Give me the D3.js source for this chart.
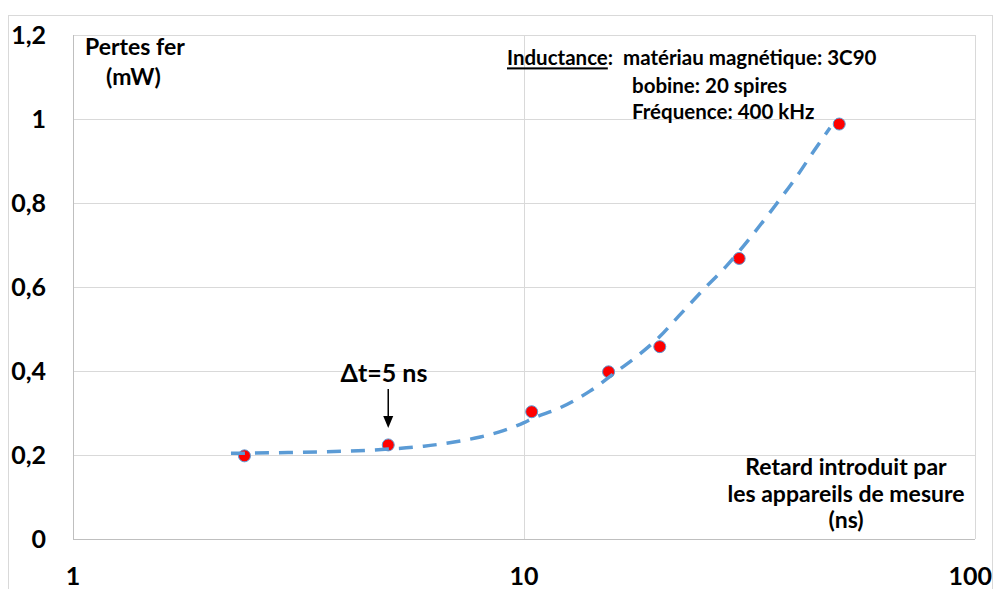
<!DOCTYPE html>
<html><head><meta charset="utf-8">
<script src="https://cdn.jsdelivr.net/npm/d3@7/dist/d3.min.js"></script>
<style>
html,body{margin:0;padding:0;background:#fff;}
svg{display:block;}
text{font-family:Lato,"Open Sans",sans-serif;font-weight:bold;fill:#000;}
</style></head>
<body>
<svg id="chart" width="994" height="589"></svg>
<script>
// Data
const delayNs = [2.4, 5, 10.4, 15.4, 20, 30, 50];
const lossMw  = [0.198, 0.224, 0.303, 0.398, 0.458, 0.668, 0.988];
// trend line
const trendX = [2.24, 3, 4, 5, 6, 7, 8, 9, 10, 10.4, 12, 14, 16, 18, 20, 22, 25, 28, 32, 36, 40, 44, 47.7];
const trendY = [0.204, 0.206, 0.209, 0.214, 0.221, 0.231, 0.243, 0.258, 0.277, 0.286, 0.312, 0.352, 0.398, 0.439, 0.482, 0.530, 0.594, 0.648, 0.722, 0.793, 0.859, 0.925, 0.979];
const xTicks = [1, 10, 100];
const xTickLabels = ["1", "10", "100"];
const yTicks = [0, 0.2, 0.4, 0.6, 0.8, 1, 1.2];
const yTickLabels = ["0", "0,2", "0,4", "0,6", "0,8", "1", "1,2"];
const yTitle = ["Pertes fer", "(mW)"];
const xTitle = ["Retard introduit par", "les appareils de mesure", "(ns)"];
const noteLines = ["bobine: 20 spires", "Fréquence: 400 kHz"];
const annot = "Δt=5 ns";

const svg = d3.select("#chart");
const x = d3.scaleLog().domain([1, 100]).range([73, 975]);
const y = d3.scaleLinear().domain([0, 1.2]).range([539, 35]);

// outer frame
svg.append("rect").attr("x", 8.5).attr("y", 15.5).attr("width", 984).attr("height", 620)
  .attr("fill", "none").attr("stroke", "#d9d9d9").attr("stroke-width", 1);

// gridlines
svg.append("g").selectAll("line").data(yTicks).join("line")
  .attr("x1", x(1)).attr("x2", x(100))
  .attr("y1", d => Math.round(y(d)) + 0.5).attr("y2", d => Math.round(y(d)) + 0.5)
  .attr("stroke", d => d === 0 ? "#bfbfbf" : "#d9d9d9").attr("stroke-width", 1);
svg.append("g").selectAll("line").data(xTicks).join("line")
  .attr("x1", d => Math.round(x(d)) + 0.5).attr("x2", d => Math.round(x(d)) + 0.5)
  .attr("y1", y(1.2)).attr("y2", y(0))
  .attr("stroke", d => d === 1 ? "#bfbfbf" : "#d9d9d9").attr("stroke-width", 1);

// y tick labels
svg.append("g").selectAll("text").data(yTicks).join("text")
  .attr("x", 46).attr("y", d => y(d)).attr("dy", "0.36em")
  .attr("text-anchor", "end").style("font-size", "25px")
  .text((d, i) => yTickLabels[i]);
// x tick labels (last one kept inside the frame)
svg.append("g").selectAll("text").data(xTicks).join("text")
  .attr("x", (d, i) => i === xTicks.length - 1 ? 992 : x(d)).attr("y", 576).attr("dy", "0.36em")
  .attr("text-anchor", (d, i) => i === xTicks.length - 1 ? "end" : "middle").style("font-size", "25px")
  .text((d, i) => xTickLabels[i]);

// markers
svg.append("g").selectAll("circle").data(delayNs).join("circle")
  .attr("cx", d => x(d)).attr("cy", (d, i) => y(lossMw[i])).attr("r", 6)
  .attr("fill", "#ff0000").attr("stroke", "#5b9bd5").attr("stroke-width", 1);

// trend line
const line = d3.line().x(d => x(d[0])).y(d => y(d[1])).curve(d3.curveMonotoneX);
svg.append("path").datum(trendX.map((v, i) => [v, trendY[i]]))
  .attr("d", line).attr("fill", "none").attr("stroke", "#5b9bd5")
  .attr("stroke-width", 3.5).attr("stroke-dasharray", "14,10");

// y title
svg.append("text").attr("x", 85).attr("y", 47).attr("dy", "0.36em").style("font-size", "23px").text(yTitle[0]);
svg.append("text").attr("x", 106).attr("y", 77).attr("dy", "0.36em").style("font-size", "23px").text(yTitle[1]);

// x title
svg.append("g").selectAll("text").data(xTitle).join("text")
  .attr("x", 846).attr("y", (d, i) => 467 + i * 26.5).attr("dy", "0.36em")
  .attr("text-anchor", "middle").style("font-size", "23px").text(d => d);

// note
const n1 = svg.append("text").attr("x", 507).attr("y", 58).attr("dy", "0.36em").style("font-size", "20.5px");
n1.append("tspan").style("text-decoration", "underline").text("Inductance");
n1.append("tspan").attr("xml:space", "preserve").text(":  matériau magnétique: 3C90");
svg.append("text").attr("x", 632).attr("y", 86).attr("dy", "0.36em").style("font-size", "20.5px").text(noteLines[0]);
svg.append("text").attr("x", 632).attr("y", 112).attr("dy", "0.36em").style("font-size", "20.5px").text(noteLines[1]);

// annotation
svg.append("text").attr("x", 384).attr("y", 373).attr("dy", "0.36em").attr("text-anchor", "middle")
  .style("font-size", "25px").text(annot);
const ax = x(5);
svg.append("line").attr("x1", ax).attr("x2", ax).attr("y1", 389).attr("y2", 418)
  .attr("stroke", "#000").attr("stroke-width", 1.5);
svg.append("path").attr("d", `M${ax - 5},416 L${ax + 5},416 L${ax},428 Z`).attr("fill", "#000");
</script>
</body></html>
